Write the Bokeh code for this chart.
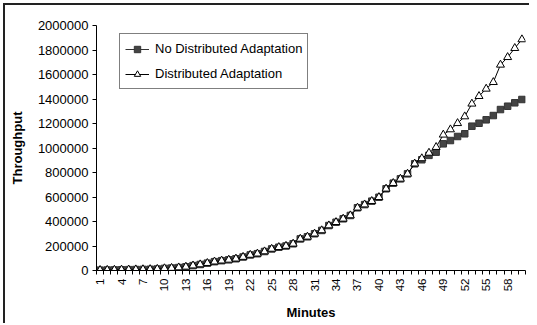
import math
from bokeh.plotting import figure
from bokeh.models import Range1d, FixedTicker, NumeralTickFormatter, Legend
from bokeh.embed import file_html
from bokeh.resources import INLINE

minutes = list(range(1, 61))
no_dist = [3000, 4000, 5000, 6000, 7000, 8000, 9000, 10000, 12000, 17000,
           20000, 24000, 30000, 40000, 49000, 60000, 72000, 80000, 87000, 96000,
           110000, 127000, 137000, 155000, 176000, 190000, 200000, 218000, 258000, 275000,
           300000, 327000, 367000, 394000, 422000, 449000, 512000, 538000, 566000, 598000,
           667000, 713000, 748000, 789000, 871000, 904000, 940000, 966000, 1034000, 1061000,
           1094000, 1116000, 1178000, 1202000, 1230000, 1265000, 1314000, 1341000, 1369000, 1396000]
dist = [3000, 4000, 5000, 6000, 7000, 8000, 9000, 10000, 12000, 17000,
        20000, 24000, 30000, 40000, 49000, 60000, 72000, 80000, 87000, 96000,
        110000, 127000, 137000, 155000, 176000, 190000, 200000, 218000, 258000, 275000,
        300000, 327000, 367000, 394000, 422000, 449000, 512000, 538000, 566000, 598000,
        667000, 713000, 748000, 789000, 872000, 915000, 960000, 1007000, 1108000, 1151000,
        1202000, 1257000, 1361000, 1423000, 1483000, 1537000, 1679000, 1741000, 1815000, 1886000]
y_ticks = [0, 200000, 400000, 600000, 800000, 1000000, 1200000, 1400000, 1600000, 1800000, 2000000]
x_label_ticks = minutes[::3]

FONT = "Liberation Sans"

p = figure(output_backend="svg", toolbar_location=None,
           x_range=Range1d(0.5, 60.5), y_range=Range1d(0, 2000000),
           frame_width=429, frame_height=245,
           min_border_left=91, min_border_right=4, min_border_top=20, min_border_bottom=45,
           styles={"border-left": "2px solid #222222", "border-top": "2px solid #222222",
                   "margin-left": "3px", "margin-top": "3px"})
p.outline_line_color = None
p.grid.grid_line_color = None
p.background_fill_color = "white"
p.border_fill_color = "white"

sq_line = p.line(minutes, no_dist, line_color="#333333", line_width=1)
sq = p.scatter(minutes, no_dist, marker="square", size=6.5, fill_color="#444444",
               line_color="#333333", line_width=1)
tr_line = p.line(minutes, dist, line_color="#000000", line_width=1)
tr = p.scatter(minutes, dist, marker="triangle", size=8, fill_color="white",
               line_color="#000000", line_width=1)

legend = Legend(items=[("No Distributed Adaptation", [sq_line, sq]),
                       ("Distributed Adaptation", [tr_line, tr])],
                location=(23, 181))
legend.border_line_color = "black"
legend.border_line_width = 1
legend.background_fill_alpha = 1
legend.label_text_font = FONT
legend.label_text_font_size = "13px"
legend.label_text_color = "black"
legend.glyph_width = 24
legend.glyph_height = 16
legend.label_height = 19
legend.label_standoff = 6
legend.spacing = 6
legend.padding = 5
legend.margin = 0
p.add_layout(legend, "center")

p.yaxis.ticker = FixedTicker(ticks=y_ticks)
p.yaxis.formatter = NumeralTickFormatter(format="0")
p.yaxis.major_tick_out = 4
p.yaxis.major_tick_in = 0
p.yaxis.minor_tick_out = 0
p.yaxis.minor_tick_in = 0
p.yaxis.axis_label = "Throughput"
p.yaxis.axis_label_standoff = 10
p.yaxis.major_label_text_font_size = "13px"

boundaries = [m - 0.5 for m in minutes] + [minutes[-1] + 0.5]
p.xaxis.ticker = FixedTicker(ticks=x_label_ticks, minor_ticks=boundaries)
p.xaxis.major_tick_out = 0
p.xaxis.major_tick_in = 0
p.xaxis.minor_tick_out = 4
p.xaxis.minor_tick_in = 0
p.xaxis.major_label_orientation = math.pi / 2
p.xaxis.axis_label = "Minutes"
p.xaxis.axis_label_standoff = 11
p.xaxis.major_label_text_font_size = "11.5px"

for ax in (p.xaxis, p.yaxis):
    ax.axis_line_color = "black"
    ax.major_tick_line_color = "black"
    ax.minor_tick_line_color = "black"
    ax.major_label_text_font = FONT
    ax.major_label_text_color = "black"
    ax.axis_label_text_font = FONT
    ax.axis_label_text_font_size = "13px"
    ax.axis_label_text_font_style = "bold"
    ax.axis_label_text_color = "black"
    ax.major_label_standoff = 4

open("out.html", "w").write(file_html(p, INLINE))
